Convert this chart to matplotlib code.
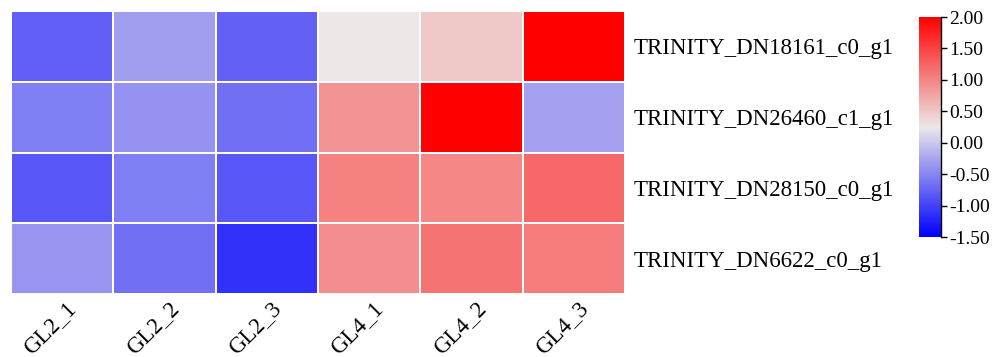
import numpy as np
import matplotlib
matplotlib.use("Agg")
import matplotlib.pyplot as plt
from matplotlib.colors import LinearSegmentedColormap
from matplotlib.transforms import ScaledTranslation, blended_transform_factory

samples = ["GL2_1", "GL2_2", "GL2_3", "GL4_1", "GL4_2", "GL4_3"]
genes = ["TRINITY_DN18161_c0_g1", "TRINITY_DN26460_c1_g1",
         "TRINITY_DN28150_c0_g1", "TRINITY_DN6622_c0_g1"]

dn18161 = [-0.78, -0.31, -0.77, 0.25, 0.49, 2.00]
dn26460 = [-0.55, -0.40, -0.66, 0.88, 2.00, -0.29]
dn28150 = [-0.85, -0.55, -0.85, 1.02, 0.98, 1.21]
dn6622 = [-0.37, -0.66, -1.13, 0.93, 1.13, 1.06]

cbar_ticks = [-1.5, -1.0, -0.5, 0.0, 0.5, 1.0, 1.5, 2.0]

values = np.array([dn18161, dn26460, dn28150, dn6622])

plt.rcParams["font.family"] = ["Liberation Serif", "DejaVu Serif"]

cmap = LinearSegmentedColormap.from_list(
    "blue_grey_red", ["#0000FF", "#EDE8E8", "#FF0000"])

fig = plt.figure(figsize=(9.92, 3.57), dpi=100)
ax = fig.add_axes([11 / 992, 1 - 294 / 357, 614 / 992, 283 / 357])

mesh = ax.pcolormesh(values, cmap=cmap, vmin=-1.5, vmax=2.0,
                     edgecolors="white", linewidth=1.2)
ax.set_xlim(0, len(samples))
ax.set_ylim(len(genes), 0)
for s in ax.spines.values():
    s.set_visible(False)

# sample names, rotated, with their upper end just right of each column centre
ax.set_xticks(np.arange(len(samples)) + 0.5)
ax.set_xticklabels([])
label_tr = blended_transform_factory(ax.transData, ax.transAxes) + \
    ScaledTranslation(11 / 100, -11 / 100, fig.dpi_scale_trans)
for i, name in enumerate(samples):
    ax.text(i + 0.5, 0, name, transform=label_tr, rotation=45,
            ha="right", va="center", rotation_mode="anchor", fontsize=16.5)

ax.set_yticks(np.arange(len(genes)) + 0.5)
ax.set_yticklabels(genes, fontsize=16.5)
ax.yaxis.tick_right()
ax.tick_params(axis="both", length=0)
ax.tick_params(axis="y", pad=6)

cax = fig.add_axes([919 / 992, 1 - 237 / 357, 22 / 992, 220 / 357])
cbar = fig.colorbar(mesh, cax=cax, ticks=cbar_ticks)
cbar.outline.set_visible(False)
cbar.ax.set_yticklabels([f"{t:.2f}" for t in cbar_ticks])
cbar.ax.tick_params(labelsize=14, length=4, width=1, pad=2)
cax.plot([1, 1], [0, 1], transform=cax.transAxes, color="black",
         lw=1, clip_on=False)

fig.savefig("out.png", dpi=100)
